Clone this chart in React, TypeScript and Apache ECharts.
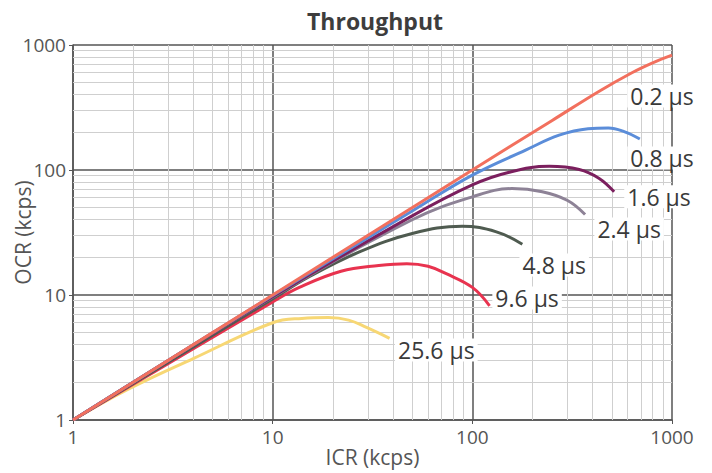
import React, { useEffect, useRef } from "react";
import * as echarts from "echarts";

const FONT = "'Open Sans', 'Noto Sans', sans-serif";

// ICR (x), OCR (y) in kcps
const s02 = [[1, 1], [10, 10], [100, 100], [250, 248], [430, 425], [630, 600], [800, 720], [1000, 830]];
const s08 = [[1, 1], [10, 9.9], [50, 47], [100, 91], [186, 145], [272, 190], [380, 214], [480, 217], [580, 202], [690, 177]];
const s16 = [[1, 1], [10, 9.7], [50, 43], [100, 76], [153, 96], [243, 107], [343, 101], [430, 86], [513, 67]];
const s24 = [[1, 1], [10, 9.6], [50, 40], [100, 61], [158, 71], [224, 67], [300, 57], [367, 44]];
const s48 = [[1, 1], [10, 9.3], [15, 13.8], [27, 22], [50, 31], [89, 35.5], [132, 32], [178, 25.5]];
const s96 = [[1, 1], [10, 8.8], [13.6, 11.5], [22, 15.5], [34, 17.2], [47, 17.8], [60, 17], [74, 14.8], [100, 11.5], [122, 8.2]];
const s256 = [[1, 1], [1.86, 1.74], [4, 3.1], [10, 6.0], [14, 6.5], [19, 6.6], [24, 6.3], [29.5, 5.5], [38.5, 4.5]];

const seriesNames = ["0.2 µs", "0.8 µs", "1.6 µs", "2.4 µs", "4.8 µs", "9.6 µs", "25.6 µs"];
const seriesData = [s02, s08, s16, s24, s48, s96, s256];
const seriesColors = ["#f2705e", "#5b8dd9", "#7b1f5e", "#8d8296", "#4f5b50", "#e8334f", "#f7d774"];
// label anchor positions (data coords)
const labelCoords = [[891, 391], [891, 125], [861, 61], [610, 33.7], [257, 17.4], [188, 9.46], [66, 3.63]];

const minorValues = [2, 3, 4, 5, 6, 7, 8, 9, 20, 30, 40, 50, 60, 70, 80, 90, 200, 300, 400, 500, 600, 700, 800, 900];
const xTicks = [1, 10, 100, 1000];
const yTicks = [1, 10, 100, 1000];

export default function App() {
  const ref = useRef<HTMLDivElement>(null);
  useEffect(() => {
    if (!ref.current) return;
    const chart = echarts.init(ref.current, null, { renderer: "svg" });
    const curveSeries = seriesData
      .map((d, i) => ({
        name: seriesNames[i],
        type: "line",
        data: d,
        smooth: 0.4,
        showSymbol: false,
        symbol: "none",
        z: 3 + (seriesData.length - i),
        lineStyle: { color: seriesColors[i], width: 3 },
        markPoint: {
          symbol: "rect",
          symbolSize: 1,
          itemStyle: { color: "rgba(0,0,0,0)" },
          z: 20,
          data: [{ coord: labelCoords[i], value: seriesNames[i] }],
          label: {
            show: true,
            position: "inside",
            formatter: seriesNames[i],
            fontFamily: FONT,
            fontSize: 23,
            color: "#3a3a3a",
            backgroundColor: "#ffffff",
            padding: [0, 3, 0, 3],
          },
        },
      }))
      .reverse();
    const option = {
      animation: false,
      backgroundColor: "#ffffff",
      title: {
        text: "Throughput",
        left: 370,
        textAlign: "center",
        top: 4,
        textStyle: { fontFamily: FONT, fontSize: 23, fontWeight: "bold", color: "#3d3d3d" },
      },
      grid: { left: 73, right: 40, top: 45, bottom: 53, containLabel: false, outerBoundsMode: "none" },
      xAxis: {
        type: "log",
        logBase: 10,
        min: 1,
        max: 1000,
        name: "ICR (kcps)",
        nameLocation: "middle",
        nameGap: 26,
        nameMoveOverlap: false,
        nameTextStyle: { fontFamily: FONT, fontSize: 21, color: "#555" },
        axisLine: { lineStyle: { color: "#555", width: 1.5 } },
        axisTick: { show: true, length: 4, lineStyle: { color: "#555" } },
        axisLabel: { fontFamily: FONT, fontSize: 19, color: "#555", margin: 7, formatter: (v: number) => (xTicks.includes(Math.round(v)) ? String(Math.round(v)) : "") },
        splitLine: { show: true, lineStyle: { color: "#555", width: 1.5 } },
      },
      yAxis: {
        type: "log",
        logBase: 10,
        min: 1,
        max: 1000,
        name: "OCR (kcps)",
        nameLocation: "middle",
        nameGap: 40,
        nameMoveOverlap: false,
        nameTextStyle: { fontFamily: FONT, fontSize: 21, color: "#555" },
        axisLine: { lineStyle: { color: "#555", width: 1.5 } },
        axisTick: { show: true, length: 4, lineStyle: { color: "#555" } },
        axisLabel: { fontFamily: FONT, fontSize: 19, color: "#555", margin: 7, formatter: (v: number) => (yTicks.includes(Math.round(v)) ? String(Math.round(v)) : "") },
        splitLine: { show: true, lineStyle: { color: "#555", width: 1.5 } },
      },
      series: [
        {
          type: "line",
          data: [],
          silent: true,
          z: 1,
          markLine: {
            silent: true,
            symbol: ["none", "none"],
            label: { show: false },
            z: 1,
            lineStyle: { color: "#cfcfcf", type: "solid", width: 1 },
            data: [
              ...minorValues.map((v) => ({ xAxis: v })),
              ...minorValues.map((v) => ({ yAxis: v })),
            ],
          },
        },
        ...curveSeries,
      ],
    };
    chart.setOption(option as any);
    return () => chart.dispose();
  }, []);
  return <div ref={ref} style={{ width: 712, height: 473, position: "absolute", left: 0, top: 0 }} />;
}
